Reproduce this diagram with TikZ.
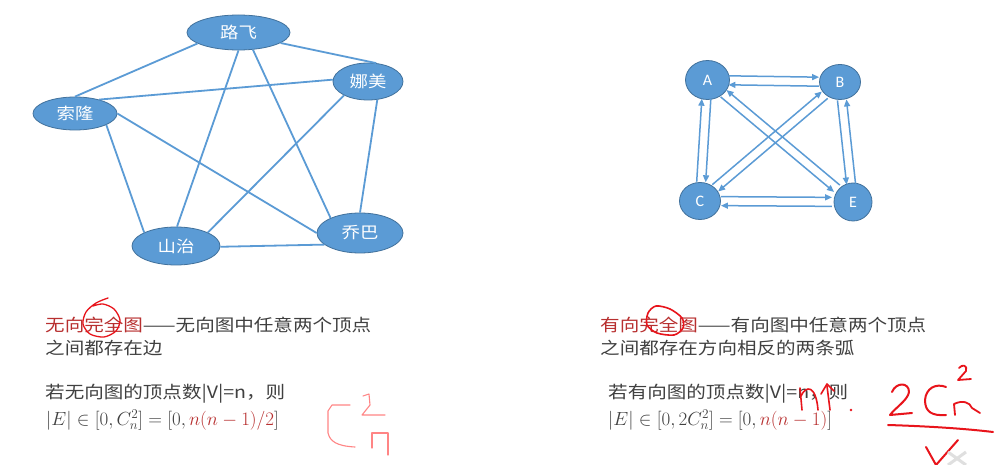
\RequirePackage{fix-cm}
\documentclass[tikz,border=0pt]{standalone}
\usepackage{fontspec}
\usepackage{graphicx}
\setmainfont{Carlito}
\newfontfamily\cjk[FakeStretch=1.15]{Noto Sans CJK SC}
\usetikzlibrary{arrows.meta,calc,shapes.geometric}
\definecolor{nodefill}{HTML}{5B9BD5}
\definecolor{nodeline}{HTML}{41719C}
\definecolor{edgec}{HTML}{5B9BD5}
\definecolor{txt}{HTML}{404040}
\definecolor{hred}{HTML}{B83030}
\definecolor{ink}{HTML}{E8141B}
\definecolor{inklight}{HTML}{FF8585}
\tikzset{
  gnode/.style={ellipse, fill=nodefill, draw=nodeline, line width=0.8pt, inner sep=0pt,
     text=white, font=\cjk\fontsize{16}{16}\selectfont},
  vnode/.style={ellipse, fill=nodefill, draw=nodeline, line width=0.8pt, inner sep=0pt,
     minimum width=44pt, minimum height=39pt, text=white, font=\fontsize{16}{16}\selectfont},
  gedge/.style={draw=edgec, line width=1.8pt},
  arc/.style={draw=edgec, line width=1.5pt, -{Triangle[length=7pt,width=6pt]}},
  body/.style={anchor=base west, inner sep=0pt, text=txt, font=\cjk\fontsize{17}{17}\selectfont},
  mbody/.style={anchor=base west, inner sep=0pt, text=txt, font=\fontsize{19}{19}\selectfont},
  hand/.style={draw=ink, line width=1.6pt, line cap=round, line join=round},
  handlight/.style={draw=inklight, line width=1.1pt, line cap=round, line join=round},
}
\newcommand\arcpair[5]{%
  \draw[arc, shorten <=#3, shorten >=#3] ($(#1)!4.5pt!#4:(#2)$) -- ($(#2)!4.5pt!#5:(#1)$);
  \draw[arc, shorten <=#3, shorten >=#3] ($(#2)!4.5pt!#4:(#1)$) -- ($(#1)!4.5pt!#5:(#2)$);}
\begin{document}
\begin{tikzpicture}[x=1pt,y=-1pt]
\useasboundingbox[fill=white] (0,0) rectangle (1007,465);

% ---------- left: undirected complete graph ----------
\node[gnode, minimum width=103pt, minimum height=35pt] (lf) at (238.5,32.5) {路飞};
\node[gnode, minimum width=70pt, minimum height=37pt] (nm) at (368,81.5) {娜美};
\node[gnode, minimum width=84pt, minimum height=33pt] (sl) at (75,113.5) {索隆};
\node[gnode, minimum width=88pt, minimum height=38pt] (sz) at (176,246) {山治};
\node[gnode, minimum width=86pt, minimum height=40pt] (qb) at (360,233) {乔巴};

\draw[gedge] (lf.-14) -- (nm.66);
\draw[gedge] (lf.195) -- (sl.90);
\draw[gedge] (lf.-90) -- (sz.87);
\draw[gedge] (lf.-50) -- (qb.153);
\draw[gedge] (sl.30) -- (nm.177);
\draw[gedge] (sl.-20) -- (sz.157);
\draw[gedge] (sl.0) -- (qb.180);
\draw[gedge] (nm.-150) -- (sz.23);
\draw[gedge] (nm.-63) -- (qb.90);
\draw[gedge] (sz.-1) -- (qb.198);

% ---------- right: directed complete graph ----------
\node[vnode] (A) at (707.5,80) {A};
\node[vnode, minimum width=41pt, minimum height=35pt] (B) at (840,82) {B};
\node[vnode, minimum width=41pt, minimum height=37pt] (C) at (700,201) {C};
\node[vnode, minimum width=38pt, minimum height=38pt] (E) at (853,202) {E};

\arcpair{A}{B}{21pt}{90}{-90}
\arcpair{C}{E}{21pt}{90}{-90}
\arcpair{A}{C}{19pt}{90}{-90}
\arcpair{B}{E}{18pt}{-90}{90}
\arcpair{A}{E}{21pt}{-90}{90}
\arcpair{B}{C}{20pt}{90}{-90}

% ---------- left text ----------
\node[body] (l1) at (45,331) {\textcolor{hred}{无向完全图}——无向图中任意两个顶点};
\node[body] (l2) at (45,354) {之间都存在边};
\node[body] (l3) at (45,398) {若无向图的顶点数|V|=n，则};
\node[mbody] (l4) at (46,425) {$|E| \in [0, C_n^2] = [0, \textcolor{hred}{n(n-1)/2}]$};

% ---------- right text ----------
\node[body] (r1) at (600,331) {\textcolor{hred}{有向完全图}——有向图中任意两个顶点};
\node[body] (r2) at (600,354) {之间都存在方向相反的两条弧};
\node[body] (r3) at (608,398) {若有向图的顶点数|V|=n，则};
\node[mbody] (r4) at (608,425) {$|E| \in [0, 2C_n^2] = [0, \textcolor{hred}{n(n-1)}]$};

% ---------- handwriting ----------
% circle around left 完
\draw[hand, line width=1.3pt] plot[smooth] coordinates {(108,298) (96,303) (86,312) (83,324) (90,334) (104,337) (116,331) (120,320) (114,309) (103,304) (93,306)};
% left C 2 n
\draw[handlight] (350,405) -- (332,405) -- (328,411) -- (328,433) .. controls (330,441) and (336,446) .. (355,447);
\draw[handlight] (363,396) -- (369,394) -- (370,405) -- (362,415) -- (385,415);
\draw[handlight] (372,448) -- (372,433) -- (388,433) -- (388,455);
% circle around right 完
\draw[hand] plot[smooth cycle] coordinates {(648,313) (656,306) (670,309) (682,318) (683,328) (674,335) (657,333) (647,325)};
% n, arrow, dots near |V|=n
\draw[hand] (800,388) -- (802,410);
\draw[hand] (801,396) .. controls (806,385) and (816,385) .. (818,410);
\draw[hand] (821,394) -- (827,384) -- (834,391);
\draw[hand] (827,386) -- (830,410);
\fill[ink] (851,410) circle (1.3pt);
% 2C_n^2 / v
\draw[hand, line width=2pt] (892,392) .. controls (896,382) and (909,382) .. (909,392) .. controls (908,400) and (895,408) .. (890,415) -- (912,413);
\draw[hand, line width=2pt] (946,387) .. controls (936,383) and (926,388) .. (925,400) .. controls (925,412) and (932,416) .. (946,415);
\draw[hand, line width=1.8pt] (959,368) .. controls (962,364) and (968,365) .. (966,371) -- (958,380) -- (971,379);
\draw[hand, line width=1.8pt] (955,415) -- (954,404) .. controls (962,400) and (970,402) .. (972,408) -- (980,413);
\draw[hand, line width=2pt] (888,425) .. controls (920,426) and (960,428) .. (993,432);
\draw[hand, line width=2pt] (926,447) -- (936,465) -- (958,440);
% faint player icon
\draw[gray!25, line width=3pt] (948,452) -- (966,465) (966,452) -- (948,465);
\end{tikzpicture}
\end{document}
